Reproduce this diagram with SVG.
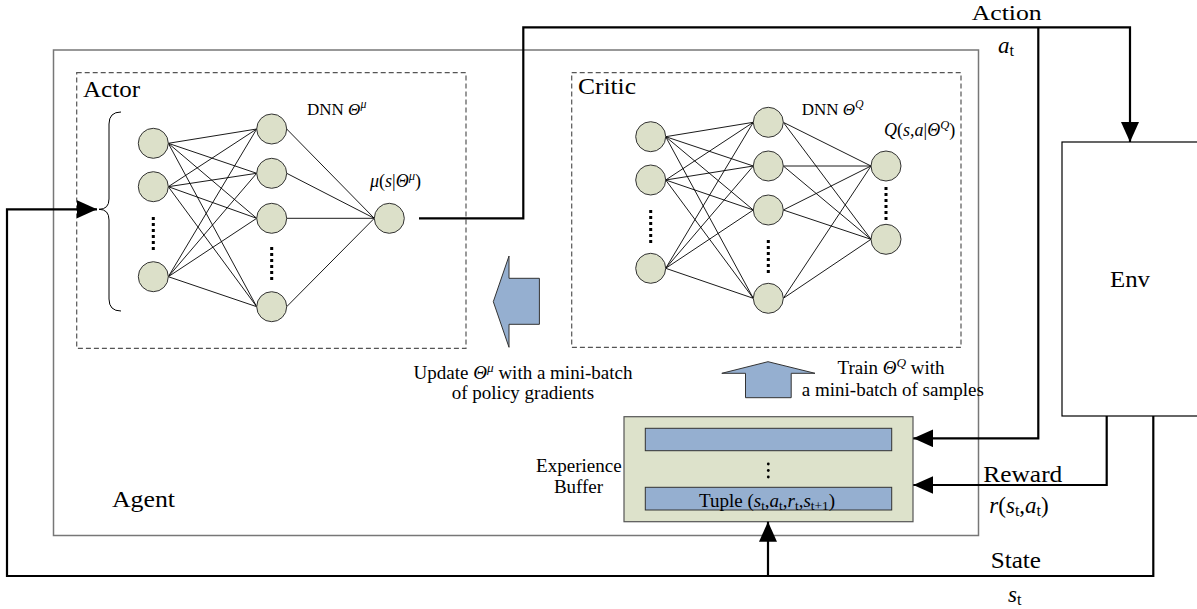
<svg xmlns="http://www.w3.org/2000/svg" width="1197" height="609" viewBox="0 0 1197 609" font-family="'Liberation Serif', 'Times New Roman', serif">
<defs>
<marker id="ah" markerUnits="userSpaceOnUse" markerWidth="20" markerHeight="18" refX="20" refY="9" orient="auto">
<path d="M0,0 L20,9 L0,18 z" fill="#000"/>
</marker>
<style>
text{font-family:'Liberation Serif','Times New Roman',serif;fill:#000}
.big{font-size:23px}
.mid{font-size:19px}
.sm{font-size:17px}
.it{font-style:italic}
.sub{font-size:70%}
.node{fill:#dce0c9;stroke:#333;stroke-width:1}
.edge{stroke:#000;stroke-width:0.9;fill:none}
.dash{fill:none;stroke:#555;stroke-width:1.2;stroke-dasharray:5,3}
.dots{stroke:#000;stroke-width:3;stroke-dasharray:3,3}
.conn{fill:none;stroke:#000;stroke-width:2.2}
.blue{fill:#95afd0;stroke:#333;stroke-width:1}
</style>
</defs>
<rect width="1197" height="609" fill="#fff"/>

<g id="agent">
<rect x="53.5" y="50" width="925" height="485.5" fill="none" stroke="#777" stroke-width="1.5"/>
<text class="big" x="112" y="506.7" textLength="63" lengthAdjust="spacingAndGlyphs">Agent</text>
</g>

<g id="env">
<rect x="1062" y="142" width="145" height="274" fill="none" stroke="#000" stroke-width="1.2"/>
<text class="big" x="1110" y="287" textLength="40" lengthAdjust="spacingAndGlyphs">Env</text>
</g>

<g id="actor">
<rect class="dash" x="76.7" y="72.7" width="389.3" height="275.6"/>
<text class="big" x="83" y="96.7" textLength="57" lengthAdjust="spacingAndGlyphs">Actor</text>
<text class="sm" x="307" y="115">DNN <tspan class="it">Θ</tspan><tspan class="it sub" dy="-7">μ</tspan></text>
<text class="sm" x="370" y="186.7" style="font-size:18px"><tspan class="it">μ</tspan>(<tspan class="it">s</tspan>|<tspan class="it">Θ</tspan><tspan class="it sub" dy="-7">μ</tspan><tspan dy="7">)</tspan></text>
<path d="M121,112 Q109,112 109,124 L109,199 Q109,209.3 99,209.3 Q109,209.3 109,220 L109,299 Q109,311 121,311" fill="none" stroke="#000" stroke-width="1"/>
<g class="edge">
<path d="M168.3,143.3 L256.7,129 M168.3,143.3 L256.7,173.3 M168.3,143.3 L256.7,218.3 M168.3,143.3 L256.7,306.7
M168.3,186.7 L256.7,129 M168.3,186.7 L256.7,173.3 M168.3,186.7 L256.7,218.3 M168.3,186.7 L256.7,306.7
M168.3,276.7 L256.7,129 M168.3,276.7 L256.7,173.3 M168.3,276.7 L256.7,218.3 M168.3,276.7 L256.7,306.7
M286.7,129 L374.3,218.3 M286.7,173.3 L374.3,218.3 M286.7,218.3 L374.3,218.3 M286.7,306.7 L374.3,218.3"/>
</g>
<circle class="node" cx="153.3" cy="143.3" r="15"/>
<circle class="node" cx="153.3" cy="186.7" r="15"/>
<circle class="node" cx="153.3" cy="276.7" r="15"/>
<circle class="node" cx="271.7" cy="129" r="15"/>
<circle class="node" cx="271.7" cy="173.3" r="15"/>
<circle class="node" cx="271.7" cy="218.3" r="15"/>
<circle class="node" cx="271.7" cy="306.7" r="15"/>
<circle class="node" cx="389.3" cy="218.3" r="15"/>
<line class="dots" x1="153.3" y1="217" x2="153.3" y2="251"/>
<line class="dots" x1="271.7" y1="247" x2="271.7" y2="281"/>
</g>

<g id="critic">
<rect class="dash" x="571.7" y="72.7" width="389.3" height="274.6"/>
<text class="big" x="578" y="93.5" textLength="58" lengthAdjust="spacingAndGlyphs">Critic</text>
<text class="sm" x="801.7" y="115">DNN <tspan class="it">Θ</tspan><tspan class="it sub" dy="-7">Q</tspan></text>
<text class="sm" x="884" y="136" style="font-size:18px"><tspan class="it">Q</tspan>(<tspan class="it">s</tspan>,<tspan class="it">a</tspan>|<tspan class="it">Θ</tspan><tspan class="it sub" dy="-7">Q</tspan><tspan dy="7">)</tspan></text>
<g class="edge">
<path d="M665.7,136.7 L753.3,122.3 M665.7,136.7 L753.3,166 M665.7,136.7 L753.3,210 M665.7,136.7 L753.3,298.3
M665.7,180 L753.3,122.3 M665.7,180 L753.3,166 M665.7,180 L753.3,210 M665.7,180 L753.3,298.3
M665.7,268.3 L753.3,122.3 M665.7,268.3 L753.3,166 M665.7,268.3 L753.3,210 M665.7,268.3 L753.3,298.3
M783.3,122.3 L871,166 M783.3,122.3 L871,239.3 M783.3,166 L871,166 M783.3,166 L871,239.3
M783.3,210 L871,166 M783.3,210 L871,239.3 M783.3,298.3 L871,166 M783.3,298.3 L871,239.3"/>
</g>
<circle class="node" cx="650.7" cy="136.7" r="15"/>
<circle class="node" cx="650.7" cy="180" r="15"/>
<circle class="node" cx="650.7" cy="268.3" r="15"/>
<circle class="node" cx="768.3" cy="122.3" r="15"/>
<circle class="node" cx="768.3" cy="166" r="15"/>
<circle class="node" cx="768.3" cy="210" r="15"/>
<circle class="node" cx="768.3" cy="298.3" r="15"/>
<circle class="node" cx="886" cy="166" r="15"/>
<circle class="node" cx="886" cy="239.3" r="15"/>
<line class="dots" x1="650.7" y1="210" x2="650.7" y2="244"/>
<line class="dots" x1="768.3" y1="240" x2="768.3" y2="274"/>
<line class="dots" x1="886" y1="187" x2="886" y2="221"/>
</g>

<g id="update-arrow">
<polygon class="blue" points="493.3,301.7 509,256 509,278.3 539.4,278.3 539.4,324.3 509,324.3 509,347.3"/>
<text class="mid" x="523" y="379" text-anchor="middle">Update <tspan class="it">Θ</tspan><tspan class="it sub" dy="-7">μ</tspan><tspan dy="7">  with a mini-batch</tspan></text>
<text class="mid" x="523" y="399.3" text-anchor="middle">of policy gradients</text>
</g>

<g id="train-arrow">
<polygon class="blue" points="768,361.7 815,373.3 791.2,373.3 791.2,397.7 745.5,397.7 745.5,373.3 721.8,373.3"/>
<text class="mid" x="891" y="374" text-anchor="middle">Train <tspan class="it">Θ</tspan><tspan class="it sub" dy="-7">Q</tspan><tspan dy="7"> with</tspan></text>
<text class="mid" x="892.8" y="395.7" text-anchor="middle">a mini-batch of samples</text>
</g>

<g id="buffer">
<rect x="624" y="416.7" width="289" height="105" fill="#dde2cb" stroke="#555" stroke-width="1.2"/>
<rect class="blue" x="645.3" y="428.3" width="246.4" height="22.4"/>
<rect class="blue" x="645.3" y="487.3" width="246.4" height="22.7"/>
<circle cx="768.3" cy="464" r="1.4" fill="#000"/>
<circle cx="768.3" cy="470.5" r="1.4" fill="#000"/>
<circle cx="768.3" cy="477" r="1.4" fill="#000"/>
<text class="mid" x="621.7" y="471.7" text-anchor="end" textLength="85.7" lengthAdjust="spacingAndGlyphs">Experience</text>
<text class="mid" x="578.5" y="493" text-anchor="middle">Buffer</text>
<text class="mid" x="699" y="506.7">Tuple (<tspan class="it">s</tspan><tspan class="sub" dy="3">t</tspan><tspan dy="-3">,</tspan><tspan class="it">a</tspan><tspan class="sub" dy="3">t</tspan><tspan dy="-3">,</tspan><tspan class="it">r</tspan><tspan class="sub" dy="3">t</tspan><tspan dy="-3">,</tspan><tspan class="it">s</tspan><tspan class="sub" dy="3">t+1</tspan><tspan dy="-3">)</tspan></text>
</g>

<g id="connectors">
<path class="conn" d="M419,218.3 H523.3 V27.3 H1130 V142" marker-end="url(#ah)"/>
<path class="conn" d="M1038.3,27.3 V438.3 H913.3" marker-end="url(#ah)"/>
<path class="conn" d="M1106.7,416 V485 H913.3" marker-end="url(#ah)"/>
<path class="conn" d="M1153.3,416 V576 H7 V209.3 H97" marker-end="url(#ah)"/>
<path class="conn" d="M768,576 V521.7" marker-end="url(#ah)"/>
</g>

<g id="labels">
<text class="big" x="971.7" y="19.5" style="font-size:21px" textLength="70" lengthAdjust="spacingAndGlyphs">Action</text>
<text class="big" x="998" y="53"><tspan class="it">a</tspan><tspan class="sub" dy="3">t</tspan></text>
<text class="big" x="983.3" y="481.7" textLength="79" lengthAdjust="spacingAndGlyphs">Reward</text>
<text class="big" x="989.3" y="513.3"><tspan class="it">r</tspan>(<tspan class="it">s</tspan><tspan class="sub" dy="3">t</tspan><tspan dy="-3">,</tspan><tspan class="it">a</tspan><tspan class="sub" dy="3">t</tspan><tspan dy="-3">)</tspan></text>
<text class="big" x="990.7" y="568.3" textLength="50.3" lengthAdjust="spacingAndGlyphs">State</text>
<text class="big" x="1008" y="601.7"><tspan class="it">s</tspan><tspan class="sub" dy="3">t</tspan></text>
</g>
</svg>
